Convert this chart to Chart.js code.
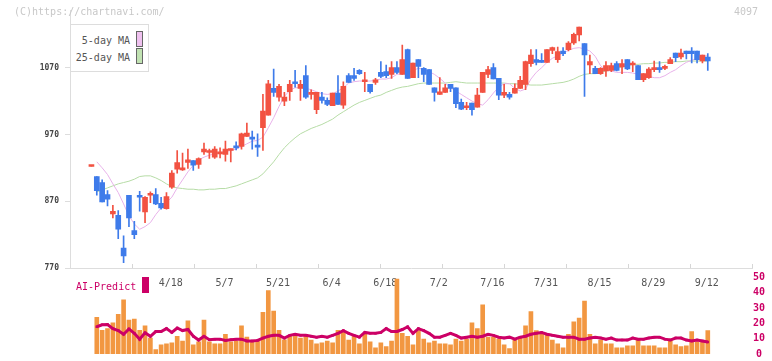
<!DOCTYPE html>
<html>
<head>
<meta charset="utf-8">
<script src="https://cdn.jsdelivr.net/npm/chart.js@4.4.1/dist/chart.umd.min.js"></script>
<style>
  body { margin: 0; background: #fff; }
  #wrap { position: relative; width: 772px; height: 361px; overflow: hidden; font-family: "DejaVu Sans Mono", monospace; }
  canvas { position: absolute; left: 0; top: 0; }
  .txt { position: absolute; font-size: 10px; line-height: 12px; white-space: nowrap; }
  #legend { position: absolute; left: 70px; top: 24px; width: 77px; height: 46px; border: 1px solid #ddd; background: #fff; }
  #legend .row { position: absolute; right: 18px; font-size: 10px; line-height: 12px; color: #555; white-space: nowrap; }
  #legend .box { position: absolute; left: 65px; width: 5px; height: 14px; border: 1px solid #666; }
</style>
</head>
<body>
<div id="wrap">
  <canvas id="priceChart" width="772" height="361"></canvas>
  <canvas id="volumeChart" width="772" height="361"></canvas>
  <div class="txt" style="left:14px;top:6px;color:#c8c8c8">(C)https://chartnavi.com/</div>
  <div class="txt" style="left:734px;top:6px;color:#c8c8c8">4097</div>
  <div id="legend">
    <div class="row" style="top:10px">5-day MA</div>
    <div class="box" style="top:6px;background:#efc1ef"></div>
    <div class="row" style="top:27px">25-day MA</div>
    <div class="box" style="top:23px;background:#c1e2b2"></div>
  </div>
  <div class="txt" style="left:76px;top:281px;color:#cc0066">AI-Predict</div>
  <div style="position:absolute;left:142px;top:277px;width:7px;height:16px;background:#cc0066"></div>
</div>
<script>
// datos (un valor por sesion)
const dateLabels = ['4/18', '5/7', '5/21', '6/4', '6/18', '7/2', '7/16', '7/31', '8/15', '8/29', '9/12'];
const labelIdx = [15, 25, 35, 45, 55, 65, 75, 85, 95, 105, 115];
const priceTicks = [770, 870, 970, 1070];
const volumeTicks = [0, 10, 20, 30, 40, 50];

const opens = [922, 907, 898, 880, 851, 849, 800, 879, 826, 878, 854, 879, 880, 867, 859, 891, 918, 917, 928, 931,
  925, 944, 943, 936, 941, 940, 946, 953, 952, 967, 964, 953, 980, 999, 1039, 1026, 1020, 1034, 1049, 1039,
  1058, 1030, 1007, 1026, 1021, 1013, 1032, 1014, 1058, 1058, 1066, 1049, 1045, 1048, 1063, 1064, 1060, 1070, 1060, 1097,
  1055, 1082, 1069, 1067, 1040, 1030, 1033, 1045, 1040, 1018, 1010, 1017, 1011, 1033, 1060, 1070, 1054, 1029, 1030, 1032,
  1039, 1045, 1076, 1082, 1080, 1078, 1096, 1082, 1095, 1097, 1107, 1119, 1106, 1074, 1069, 1061, 1065, 1066, 1076, 1071,
  1082, 1074, 1073, 1052, 1055, 1067, 1070, 1069, 1076, 1092, 1086, 1095, 1095, 1095, 1080, 1086];
const highs = [922, 907, 902, 886, 864, 856, 818, 879, 840, 885, 877, 884, 889, 876, 883, 916, 946, 942, 948, 931,
  935, 957, 948, 952, 950, 960, 948, 959, 972, 987, 975, 971, 1030, 1051, 1068, 1045, 1033, 1051, 1066, 1051,
  1073, 1037, 1033, 1033, 1025, 1032, 1058, 1049, 1061, 1069, 1067, 1063, 1045, 1054, 1079, 1074, 1079, 1079, 1104, 1098,
  1077, 1082, 1070, 1067, 1040, 1055, 1045, 1045, 1040, 1023, 1018, 1017, 1039, 1063, 1072, 1076, 1054, 1045, 1033, 1046,
  1057, 1080, 1097, 1097, 1091, 1097, 1101, 1101, 1100, 1109, 1122, 1131, 1106, 1089, 1072, 1070, 1079, 1077, 1079, 1082,
  1082, 1079, 1073, 1061, 1070, 1080, 1079, 1074, 1085, 1092, 1098, 1095, 1100, 1095, 1089, 1091];
const lows = [922, 879, 869, 863, 845, 814, 778, 832, 814, 855, 838, 868, 865, 858, 858, 889, 912, 916, 919, 916,
  919, 940, 934, 934, 935, 930, 929, 947, 948, 967, 948, 937, 946, 999, 1027, 1020, 1013, 1021, 1041, 1021,
  1024, 1023, 1001, 1017, 1013, 1013, 1015, 1009, 1048, 1051, 1060, 1034, 1032, 1045, 1055, 1055, 1054, 1061, 1060, 1054,
  1055, 1055, 1049, 1045, 1020, 1030, 1033, 1034, 1010, 1007, 1007, 999, 1011, 1033, 1055, 1053, 1022, 1025, 1023, 1032,
  1039, 1037, 1072, 1074, 1078, 1078, 1091, 1078, 1088, 1095, 1105, 1110, 1027, 1061, 1061, 1060, 1057, 1064, 1065, 1061,
  1067, 1064, 1052, 1049, 1054, 1064, 1063, 1067, 1076, 1079, 1083, 1083, 1077, 1077, 1077, 1066];
const closes = [922, 886, 869, 873, 855, 828, 788, 845, 820, 876, 876, 880, 866, 860, 877, 912, 928, 918, 932, 924,
  934, 948, 944, 948, 943, 948, 947, 950, 971, 972, 963, 951, 1005, 1046, 1033, 1042, 1026, 1045, 1046, 1045,
  1026, 1033, 1033, 1021, 1015, 1032, 1015, 1042, 1048, 1054, 1061, 1052, 1034, 1052, 1057, 1058, 1070, 1063, 1082, 1054,
  1077, 1072, 1060, 1045, 1033, 1034, 1040, 1039, 1016, 1008, 1011, 1007, 1029, 1063, 1067, 1053, 1029, 1033, 1026, 1039,
  1051, 1079, 1089, 1078, 1078, 1097, 1100, 1094, 1091, 1107, 1120, 1131, 1089, 1079, 1061, 1069, 1073, 1073, 1066, 1076,
  1068, 1077, 1052, 1061, 1068, 1070, 1067, 1070, 1082, 1085, 1092, 1091, 1091, 1082, 1089, 1080];

const ma5 = [null, 929, 920, 910, 896, 883, 866, 848, 836, 828, 832, 838, 850, 860, 868, 876, 890, 902, 914, 924,
  932, 936, 939, 941, 943, 944, 946, 948, 952, 956, 960, 961, 966, 980, 995, 1012, 1027, 1036, 1040, 1040,
  1039, 1037, 1034, 1031, 1030, 1031, 1035, 1040, 1047, 1049, 1050, 1050, 1050, 1051, 1053, 1053, 1055, 1060, 1061, 1063,
  1066, 1069, 1068, 1064, 1060, 1054, 1047, 1040, 1035, 1030, 1025, 1020, 1016, 1014, 1022, 1032, 1041, 1046, 1046, 1039,
  1035, 1038, 1053, 1063, 1070, 1078, 1084, 1088, 1092, 1096, 1099, 1100, 1098, 1095, 1087, 1073, 1066, 1065, 1063, 1063,
  1063, 1062, 1060, 1058, 1057, 1055, 1055, 1058, 1063, 1067, 1073, 1078, 1081, 1084, 1087, 1088];
const ma25 = [null, 884, 887, 890, 893, 896, 898, 900, 903, 907, 908, 908, 905, 901, 896, 892, 890, 889, 888, 888,
  887, 887, 888, 888, 889, 889, 891, 893, 896, 899, 902, 905, 911, 920, 929, 940, 950, 958, 965, 971,
  975, 979, 982, 985, 989, 993, 999, 1004, 1009, 1014, 1018, 1021, 1024, 1027, 1029, 1033, 1036, 1039, 1041, 1042,
  1044, 1046, 1047, 1047, 1047, 1047, 1047, 1048, 1049, 1048, 1047, 1047, 1047, 1047, 1047, 1047, 1047, 1047, 1046, 1046,
  1045, 1045, 1044, 1044, 1044, 1045, 1046, 1047, 1048, 1050, 1053, 1057, 1060, 1061, 1061, 1063, 1065, 1067, 1069, 1071,
  1073, 1075, 1075, 1076, 1076, 1077, 1077, 1078, 1078, 1079, 1079, 1080, 1080, 1080, 1080, 1080];

const volumes = [null, 24.0, 15.5, 16.6, 20.3, 25.9, 35.4, 22.2, 22.8, 15.5, 18.4, 10.4, 2.9, 6.0, 6.6, 7.3, 11.6, 8.5, 21.6, 6.0,
  7.9, 22.2, 7.9, 6.6, 6.6, 12.9, 7.9, 8.5, 18.4, 11.0, 7.9, 8.5, 27.2, 41.5, 28.0, 15.5, 9.3, 11.6, 13.1, 10.4,
  11.6, 9.1, 6.6, 7.3, 8.5, 7.3, 15.5, 14.1, 9.1, 11.6, 6.6, 12.9, 7.9, 4.1, 7.3, 4.8, 8.5, 48.9, 13.5, 11.6,
  6.0, 15.3, 9.7, 7.3, 8.5, 6.6, 6.6, 6.0, 9.7, 8.5, 9.7, 20.3, 16.6, 32.1, 11.0, 11.0, 9.7, 6.0, 3.5, 9.1,
  11.0, 18.4, 27.8, 15.3, 13.5, 13.5, 9.1, 6.6, 4.1, 12.9, 21.1, 23.4, 34.6, 12.9, 6.6, 9.1, 6.6, 6.6, 4.1, 4.1,
  5.4, 5.4, 9.7, 5.4, 5.4, 5.4, 4.1, 4.1, 9.7, 6.0, 4.8, 5.4, 14.7, 7.9, 7.9, 15.3];
const aiPredict = [null, 17.8, 19.1, 19.3, 16.6, 15.3, 12.9, 16.4, 13.5, 9.7, 13.9, 11.6, 14.7, 14.7, 16.6, 14.1, 17.0, 15.3, 16.0, 11.6,
  9.1, 11.6, 9.3, 9.7, 9.7, 8.9, 9.3, 9.7, 9.7, 8.5, 8.5, 8.9, 10.4, 11.6, 12.2, 12.2, 10.4, 12.2, 12.9, 12.2,
  12.2, 11.6, 11.0, 11.6, 11.0, 12.2, 13.5, 15.3, 13.5, 12.2, 11.0, 14.1, 13.5, 13.5, 14.1, 16.6, 14.7, 14.7, 16.0, 17.8,
  13.5, 16.6, 15.3, 13.5, 11.0, 11.0, 12.2, 13.5, 12.2, 10.4, 11.0, 11.6, 11.0, 11.6, 12.9, 12.2, 11.0, 10.4, 11.0, 9.7,
  11.0, 11.6, 12.9, 13.5, 14.1, 12.9, 12.2, 11.6, 11.0, 11.0, 11.0, 9.7, 9.7, 10.4, 11.0, 10.4, 9.7, 10.4, 9.1, 9.1,
  9.1, 10.4, 9.7, 9.7, 10.4, 11.0, 11.0, 9.7, 9.1, 10.4, 10.4, 9.1, 8.5, 9.1, 8.5, 7.9];

const UP = '#f25242';
const DOWN = '#3e7bea';
const FONT = "'DejaVu Sans Mono', monospace";
const X_MIN = -4;
const X_MAX = 123.25;

function toPoints(values) {
    return values.map(function (v, i) { return { x: i, y: v }; });
}

const candleColors = opens.map(function (o, i) { return closes[i] >= o ? UP : DOWN; });
const gridTicks = [];
for (let k = 0; k <= 11; k++) gridTicks.push(X_MIN + k * (X_MAX - X_MIN) / 11);

function setTicks(values) {
    return function (scale) { scale.ticks = values.map(function (v) { return { value: v }; }); };
}

const priceChart = new Chart(document.getElementById('priceChart'), {
    type: 'bar',
    data: {
        datasets: [
            {
                label: 'wick',
                data: lows.map(function (l, i) { return { x: i, y: [l, highs[i]] }; }),
                backgroundColor: candleColors,
                barThickness: 1,
                grouped: false,
                order: 1
            },
            {
                label: 'body',
                data: opens.map(function (o, i) { return { x: i, y: [o, closes[i]] }; }),
                backgroundColor: candleColors,
                barThickness: 5,
                minBarLength: 2,
                grouped: false,
                order: 0
            },
            {
                type: 'line', label: '5-day MA', data: toPoints(ma5),
                borderColor: '#e8b2ea', borderWidth: 1, pointRadius: 0, order: 3
            },
            {
                type: 'line', label: '25-day MA', data: toPoints(ma25),
                borderColor: '#b6dca6', borderWidth: 1, pointRadius: 0, order: 4
            }
        ]
    },
    options: {
        responsive: false,
        animation: false,
        devicePixelRatio: 1,
        layout: { padding: { left: 0, right: 20, top: 8, bottom: 69 } },
        plugins: { legend: { display: false }, tooltip: { enabled: false } },
        scales: {
            x: {
                type: 'linear', min: X_MIN, max: X_MAX, offset: false, position: 'bottom',
                afterBuildTicks: setTicks(gridTicks),
                afterFit: function (s) { s.height = 0; },
                ticks: { display: false, autoSkip: false },
                grid: { drawOnChartArea: false, drawTicks: true, tickLength: -4, color: '#d6d6d6', offset: false },
                border: { color: '#ddd' }
            },
            xl: {
                type: 'linear', min: X_MIN, max: X_MAX, offset: false, position: 'bottom',
                afterBuildTicks: setTicks(labelIdx),
                afterFit: function (s) { s.height = 24; },
                ticks: {
                    autoSkip: false, maxRotation: 0, padding: 9, labelOffset: -1,
                    color: '#555', font: { family: FONT, size: 10 },
                    callback: function (v, i) { return dateLabels[i]; }
                },
                grid: { display: false, drawTicks: false },
                border: { display: false }
            },
            y: {
                min: 770, max: 1155.2, position: 'left',
                afterBuildTicks: setTicks(priceTicks),
                afterFit: function (s) { s.width = 70; },
                ticks: {
                    padding: 6, color: '#444', font: { family: FONT, size: 8, weight: 'bold' },
                    callback: function (v) { return String(v); }
                },
                grid: { drawOnChartArea: false, tickLength: 5, color: '#ddd' },
                border: { color: '#ddd' }
            }
        }
    }
});

const volumeChart = new Chart(document.getElementById('volumeChart'), {
    type: 'bar',
    data: {
        datasets: [
            {
                type: 'line', label: 'AI-Predict', data: toPoints(aiPredict),
                borderColor: '#cc0066', backgroundColor: '#cc0066', borderWidth: 3,
                pointStyle: 'rect', pointRadius: 1.8, pointBorderWidth: 0, order: 0
            },
            {
                label: 'volume', data: toPoints(volumes),
                backgroundColor: '#f29741', barThickness: 4, order: 1
            }
        ]
    },
    options: {
        responsive: false,
        animation: false,
        devicePixelRatio: 1,
        layout: { padding: { left: 70, right: 6, top: 277.5, bottom: 3 } },
        plugins: { legend: { display: false }, tooltip: { enabled: false } },
        scales: {
            x: { type: 'linear', min: X_MIN, max: X_MAX, offset: false, display: false },
            y: {
                position: 'right', min: 0, max: 50,
                afterBuildTicks: setTicks(volumeTicks),
                afterFit: function (s) { s.width = 14; },
                ticks: { padding: 1, crossAlign: 'center', color: '#cc0066', font: { family: FONT, size: 10, weight: 'bold' } },
                grid: { display: false, drawTicks: false },
                border: { display: false }
            }
        }
    }
});
</script>
</body>
</html>
